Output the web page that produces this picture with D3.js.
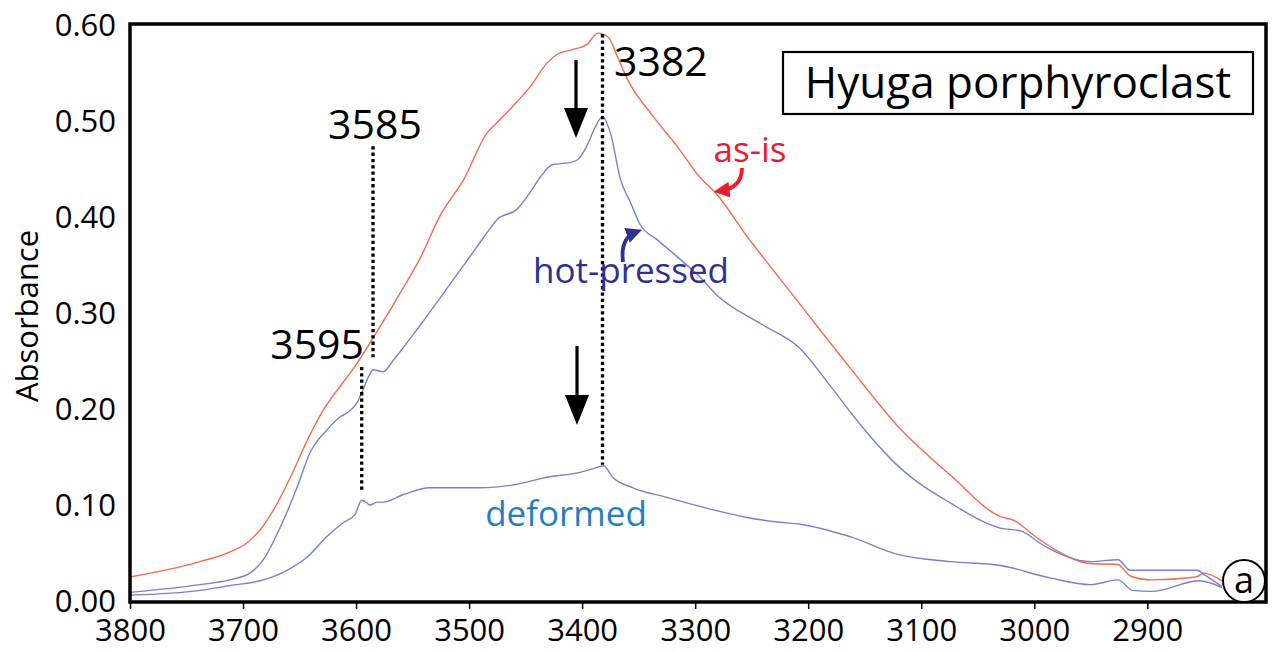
<!DOCTYPE html>
<html>
<head>
<meta charset="utf-8">
<script src="https://cdn.jsdelivr.net/npm/d3@7"></script>
<style>
  html, body { margin: 0; padding: 0; background: #fff; }
  svg { display: block; font-family: "Open Sans", "Noto Sans", sans-serif; }
</style>
</head>
<body>
<svg id="chart" width="1275" height="652"></svg>
<script>
// ---- Data (wavenumber cm^-1, absorbance) ----
const asIsWn  = [3800,3738,3712,3696,3685,3673,3658,3643,3629,3612,3599,3583,3561,3543,3526,3505,3484,3475,3458,3446,3431,3422,3408,3396,3386,3377,3369,3360,3337,3316,3296,3281,3254,3207,3163,3119,3074,3030,3018,3000,2985,2950,2926,2915,2896,2857,2850,2834];
const asIsAbs = [0.024,0.040,0.050,0.060,0.073,0.094,0.128,0.167,0.198,0.226,0.247,0.277,0.320,0.357,0.400,0.438,0.487,0.498,0.519,0.535,0.560,0.569,0.574,0.579,0.591,0.587,0.567,0.543,0.504,0.473,0.441,0.423,0.379,0.308,0.242,0.179,0.130,0.087,0.083,0.067,0.055,0.038,0.037,0.025,0.021,0.024,0.028,0.020];

const hotWn  = [3800,3738,3712,3694,3682,3667,3652,3641,3626,3614,3608,3599,3594,3588,3585,3576,3567,3543,3517,3495,3481,3475,3458,3446,3437,3426,3411,3404,3396,3388,3382,3375,3366,3357,3349,3334,3316,3296,3281,3242,3207,3181,3154,3119,3074,3030,3012,2992,2950,2926,2915,2856,2849,2834];
const hotAbs = [0.008,0.016,0.021,0.028,0.042,0.076,0.118,0.153,0.177,0.191,0.195,0.206,0.219,0.235,0.240,0.238,0.250,0.287,0.329,0.365,0.388,0.397,0.407,0.425,0.441,0.454,0.456,0.459,0.473,0.494,0.504,0.487,0.438,0.414,0.392,0.376,0.358,0.337,0.318,0.288,0.262,0.224,0.183,0.138,0.101,0.075,0.072,0.057,0.040,0.042,0.031,0.031,0.026,0.014];

const defWn  = [3800,3738,3712,3682,3661,3643,3626,3612,3601,3595,3590,3588,3581,3576,3558,3535,3517,3490,3461,3431,3402,3390,3381,3373,3355,3325,3284,3254,3225,3207,3163,3119,3074,3030,2986,2950,2926,2913,2896,2854,2834];
const defAbs = [0.005,0.010,0.015,0.021,0.031,0.045,0.066,0.080,0.089,0.104,0.101,0.099,0.102,0.102,0.110,0.117,0.117,0.117,0.120,0.128,0.133,0.137,0.140,0.128,0.117,0.107,0.094,0.086,0.081,0.079,0.066,0.047,0.040,0.036,0.023,0.016,0.021,0.010,0.009,0.020,0.013];

const xTicks = [3800,3700,3600,3500,3400,3300,3200,3100,3000,2900];
const yTicks = [0,0.1,0.2,0.3,0.4,0.5,0.6];

const peakLines = [
  {wn: 3382, from: 0.590, to: 0.141},
  {wn: 3585, from: 0.473, to: 0.253},
  {wn: 3595, from: 0.243, to: 0.115}
];

// ---- Layout ----
const svg = d3.select("#chart");
const L = 130, R = 1266, T = 24, B = 602;
const x = d3.scaleLinear().domain([3800, 2795]).range([L, R]);
const y = d3.scaleLinear().domain([0, 0.6]).range([600, 24.5]);

const FONT = "'Open Sans', 'Noto Sans', sans-serif";

// Series
const series = [
  {wn: asIsWn, v: asIsAbs, color: "#f36c4f"},
  {wn: hotWn,  v: hotAbs,  color: "#7b7fd1"},
  {wn: defWn,  v: defAbs,  color: "#7b7fd1"}
];
const line = d3.line().x(d => x(d[0])).y(d => y(d[1])).curve(d3.curveMonotoneX);
series.forEach(s => {
  svg.append("path")
    .datum(s.wn.map((w, i) => [w, s.v[i]]))
    .attr("d", line)
    .attr("fill", "none")
    .attr("stroke", s.color)
    .attr("stroke-width", 1.4);
});

// Dotted peak lines
svg.selectAll(".peak").data(peakLines).enter().append("line")
  .attr("x1", d => x(d.wn)).attr("x2", d => x(d.wn))
  .attr("y1", d => y(d.from)).attr("y2", d => y(d.to))
  .attr("stroke", "#000").attr("stroke-width", 3.3)
  .attr("stroke-dasharray", "3.3,3");

// Frame
svg.append("rect")
  .attr("x", L).attr("y", T).attr("width", R - L).attr("height", B - T)
  .attr("fill", "none").attr("stroke", "#000").attr("stroke-width", 3.5);

// X axis
const xAxis = svg.append("g").attr("transform", `translate(0,${B})`)
  .call(d3.axisBottom(x).tickValues(xTicks).tickSize(7).tickFormat(d3.format("d")));
xAxis.select(".domain").remove();
xAxis.selectAll(".tick line").attr("stroke", "#000").attr("stroke-width", 1.5);
xAxis.selectAll(".tick text")
  .attr("y", 39).attr("dy", 0)
  .attr("font-family", FONT).attr("font-size", 31).attr("fill", "#000");

// Y axis
const yAxis = svg.append("g").attr("transform", `translate(${L},0)`)
  .call(d3.axisLeft(y).tickValues(yTicks).tickSize(0).tickPadding(14).tickFormat(d3.format(".2f")));
yAxis.select(".domain").remove();
yAxis.selectAll(".tick text")
  .attr("font-family", FONT).attr("font-size", 31).attr("fill", "#000").attr("dy", "0.36em");

// Y label
svg.append("text")
  .attr("transform", "translate(38,316) rotate(-90)")
  .attr("text-anchor", "middle")
  .attr("font-family", FONT).attr("font-size", 31).attr("fill", "#000")
  .text("Absorbance");

// Peak labels
svg.append("text").attr("x", 614).attr("y", 76).attr("font-family", FONT).attr("font-size", 41).attr("fill", "#000").text("3382");
svg.append("text").attr("x", 375).attr("y", 139).attr("text-anchor", "middle").attr("font-family", FONT).attr("font-size", 41).attr("fill", "#000").text("3585");
svg.append("text").attr("x", 364).attr("y", 359).attr("text-anchor", "end").attr("font-family", FONT).attr("font-size", 41).attr("fill", "#000").text("3595");

// Down arrows
function downArrow(cx, y0, y1) {
  svg.append("line").attr("x1", cx).attr("x2", cx).attr("y1", y0).attr("y2", y1 - 20)
    .attr("stroke", "#000").attr("stroke-width", 3.2);
  svg.append("path")
    .attr("d", `M${cx - 12},${y1 - 30} L${cx + 12},${y1 - 30} L${cx},${y1} Z`)
    .attr("fill", "#000");
}
downArrow(576, 60, 138);
downArrow(577, 346, 425);

// Series labels
svg.append("text").attr("x", 750).attr("y", 162).attr("text-anchor", "middle")
  .attr("font-family", FONT).attr("font-size", 35).attr("fill", "#ec1c2e").text("as-is");
svg.append("text").attr("x", 631).attr("y", 283).attr("text-anchor", "middle")
  .attr("font-family", FONT).attr("font-size", 35).attr("fill", "#2e3192").text("hot-pressed");
svg.append("text").attr("x", 566).attr("y", 526).attr("text-anchor", "middle")
  .attr("font-family", FONT).attr("font-size", 35).attr("fill", "#1f7ec4").text("deformed");

// Curved arrows
const defs = svg.append("defs");
function marker(id, color) {
  defs.append("marker").attr("id", id)
    .attr("viewBox", "0 0 10 10").attr("refX", 6).attr("refY", 5)
    .attr("markerWidth", 4.2).attr("markerHeight", 4.2)
    .attr("orient", "auto-start-reverse")
    .append("path").attr("d", "M0,0 L10,5 L0,10 Z").attr("fill", color);
}
marker("mred", "#ec1c2e");
marker("mblue", "#2e3192");
svg.append("path").attr("d", "M742,168 Q742,188 720,191")
  .attr("fill", "none").attr("stroke", "#ec1c2e").attr("stroke-width", 3.8)
  .attr("marker-end", "url(#mred)");
svg.append("path").attr("d", "M623,262 Q620,238 636,232")
  .attr("fill", "none").attr("stroke", "#2e3192").attr("stroke-width", 3.8)
  .attr("marker-end", "url(#mblue)");

// Title box
svg.append("rect").attr("x", 783).attr("y", 52).attr("width", 470).attr("height", 62)
  .attr("fill", "#fff").attr("stroke", "#000").attr("stroke-width", 2.2);
svg.append("text").attr("x", 1018).attr("y", 98).attr("text-anchor", "middle")
  .attr("font-family", FONT).attr("font-size", 44).attr("fill", "#000").text("Hyuga porphyroclast");

// Panel letter
svg.append("circle").attr("cx", 1244).attr("cy", 581).attr("r", 21)
  .attr("fill", "#fff").attr("stroke", "#000").attr("stroke-width", 2);
svg.append("text").attr("x", 1244).attr("y", 593).attr("text-anchor", "middle")
  .attr("font-family", FONT).attr("font-size", 36).attr("fill", "#000").text("a");
</script>
</body>
</html>
